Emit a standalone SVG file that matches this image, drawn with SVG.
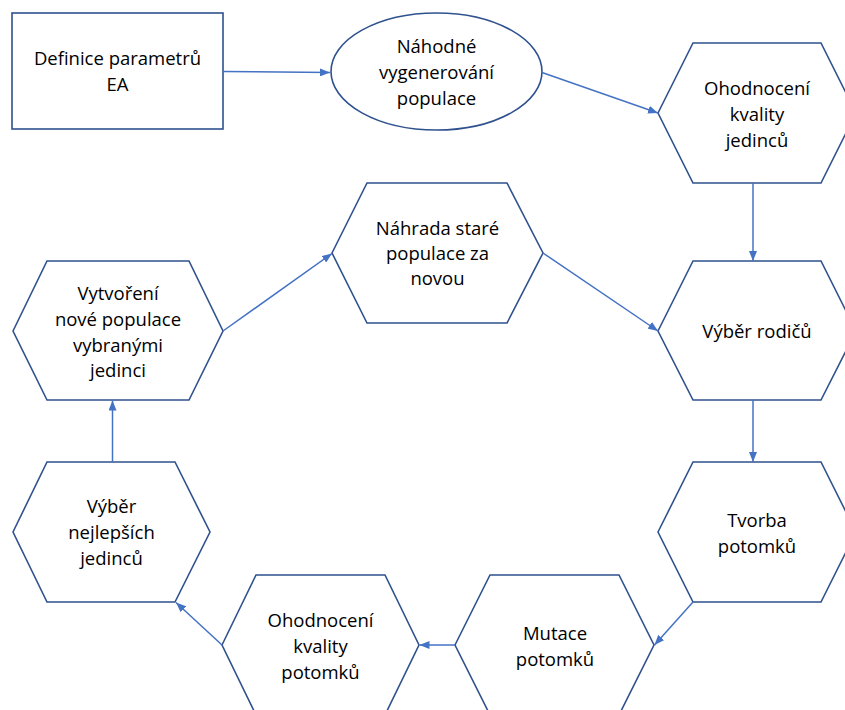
<svg xmlns="http://www.w3.org/2000/svg" width="845" height="710" viewBox="0 0 845 710">
<defs>
<style>
.n{fill:#fff;stroke:#2F528F;stroke-width:1.6}
.t{font-family:"Open Sans","Liberation Sans",sans-serif;font-size:18.5px;fill:#000;text-anchor:middle}
.c{fill:none;stroke:#4472C4;stroke-width:1.5;marker-end:url(#a)}
</style>
<marker id="a" viewBox="0 0 10 8" refX="10" refY="4" markerWidth="10" markerHeight="8" orient="auto" markerUnits="userSpaceOnUse">
<path d="M0,0L10,4L0,8z" fill="#4472C4"/>
</marker>
</defs>
<rect width="845" height="710" fill="#fff"/>
<g id="n1"><rect class="n" x="12" y="13" width="211" height="116"/><text class="t" x="117.5" y="65">Definice parametrů</text><text class="t" x="117.5" y="91">EA</text></g>
<g id="n2"><ellipse class="n" cx="436.5" cy="71.5" rx="105.5" ry="58.5"/><text class="t" x="436.5" y="53">Náhodné</text><text class="t" x="436.5" y="79">vygenerování</text><text class="t" x="436.5" y="105">populace</text></g>
<g id="n3"><polygon class="n" points="658,113 693,43 821,43 856,113 821,183 693,183"/><text class="t" x="757" y="95">Ohodnocení</text><text class="t" x="757" y="121">kvality</text><text class="t" x="757" y="147">jedinců</text></g>
<g id="n4"><polygon class="n" points="658,331 693,261 821,261 856,331 821,400 693,400"/><text class="t" x="757" y="338">Výběr rodičů</text></g>
<g id="n5"><polygon class="n" points="658,532 693,462 821,462 856,532 821,602 693,602"/><text class="t" x="757" y="527">Tvorba</text><text class="t" x="757" y="553">potomků</text></g>
<g id="n6"><polygon class="n" points="455,645 490,575 619,575 654,645 619,715 490,715"/><text class="t" x="555" y="640">Mutace</text><text class="t" x="555" y="666">potomků</text></g>
<g id="n7"><polygon class="n" points="222,645 256,575 385,575 419,645 385,715 256,715"/><text class="t" x="320.5" y="627">Ohodnocení</text><text class="t" x="320.5" y="653">kvality</text><text class="t" x="320.5" y="679">potomků</text></g>
<g id="n8"><polygon class="n" points="13,532 47,462 175,462 210,532 175,602 47,602"/><text class="t" x="111.5" y="513">Výběr</text><text class="t" x="111.5" y="539">nejlepších</text><text class="t" x="111.5" y="565">jedinců</text></g>
<g id="n9"><polygon class="n" points="13,331 47,261 189,261 223,331 189,400 47,400"/><text class="t" x="118" y="300">Vytvoření</text><text class="t" x="118" y="326">nové populace</text><text class="t" x="118" y="352">vybranými</text><text class="t" x="118" y="377">jedinci</text></g>
<g id="n10"><polygon class="n" points="332,253 367,183 507,183 543,253 507,323 367,323"/><text class="t" x="437.5" y="235">Náhrada staré</text><text class="t" x="437.5" y="260">populace za</text><text class="t" x="437.5" y="285">novou</text></g>
<g id="connectors">
<line class="c" x1="223" y1="71.5" x2="330" y2="72.5"/>
<line class="c" x1="542" y1="72.5" x2="658" y2="113"/>
<line class="c" x1="753" y1="183" x2="753" y2="261"/>
<line class="c" x1="753" y1="400" x2="753" y2="462"/>
<line class="c" x1="693" y1="602" x2="654.5" y2="645"/>
<line class="c" x1="455" y1="645" x2="419.5" y2="645"/>
<line class="c" x1="222" y1="645" x2="176" y2="602.5"/>
<line class="c" x1="112.5" y1="462" x2="112.5" y2="400.5"/>
<line class="c" x1="223" y1="331" x2="332" y2="253.5"/>
<line class="c" x1="543" y1="253" x2="658" y2="331"/>
</g>
</svg>
